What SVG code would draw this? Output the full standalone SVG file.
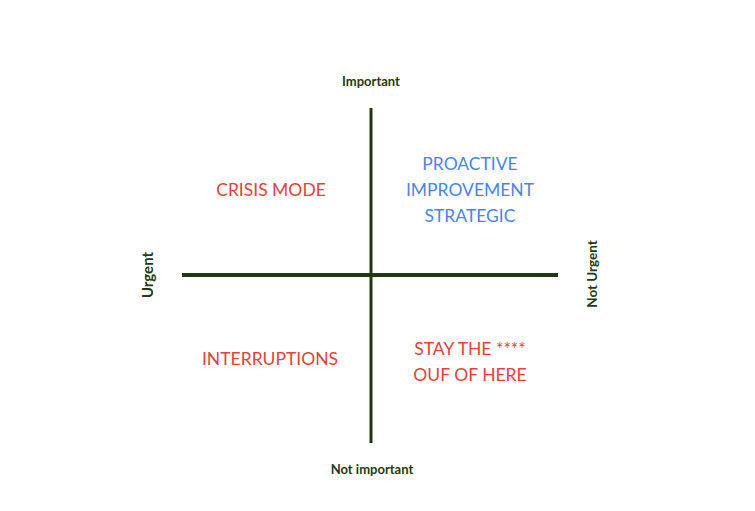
<svg xmlns="http://www.w3.org/2000/svg" width="755" height="511" viewBox="0 0 755 511">
<style>
.ax{font-family:Lato,"Noto Sans",sans-serif;font-weight:bold;font-size:13px;fill:#1f3a13;text-anchor:middle}
.q{font-family:Lato,"Noto Sans",sans-serif;font-size:17.5px;text-anchor:middle}
.red{fill:#e0443c}
.blue{fill:#4a86e8}
.line{stroke:#1f3a13;fill:none}
</style>
<rect width="755" height="511" fill="#fff"/>
<g id="connectors">
<line class="line" x1="182" y1="275" x2="558" y2="275" stroke-width="4"/>
<line class="line" x1="371" y1="108" x2="371" y2="443" stroke-width="3"/>
</g>
<g id="important"><text class="ax" x="371" y="86">Important</text></g>
<g id="not-important"><text class="ax" x="372" y="474">Not important</text></g>
<g id="urgent"><text class="ax" style="font-size:15px" transform="translate(153,275) rotate(-90)">Urgent</text></g>
<g id="not-urgent"><text class="ax" style="font-size:13.5px" transform="translate(597,274) rotate(-90)">Not Urgent</text></g>
<g id="crisis"><text class="q red" x="271" y="196">CRISIS MODE</text></g>
<g id="proactive"><text class="q blue" x="470" y="170">PROACTIVE</text><text class="q blue" x="470" y="196">IMPROVEMENT</text><text class="q blue" x="470" y="222">STRATEGIC</text></g>
<g id="interruptions"><text class="q red" x="270" y="365">INTERRUPTIONS</text></g>
<g id="stay"><text class="q red" x="470" y="355">STAY THE ****</text><text class="q red" x="470" y="381">OUF OF HERE</text></g>
</svg>
